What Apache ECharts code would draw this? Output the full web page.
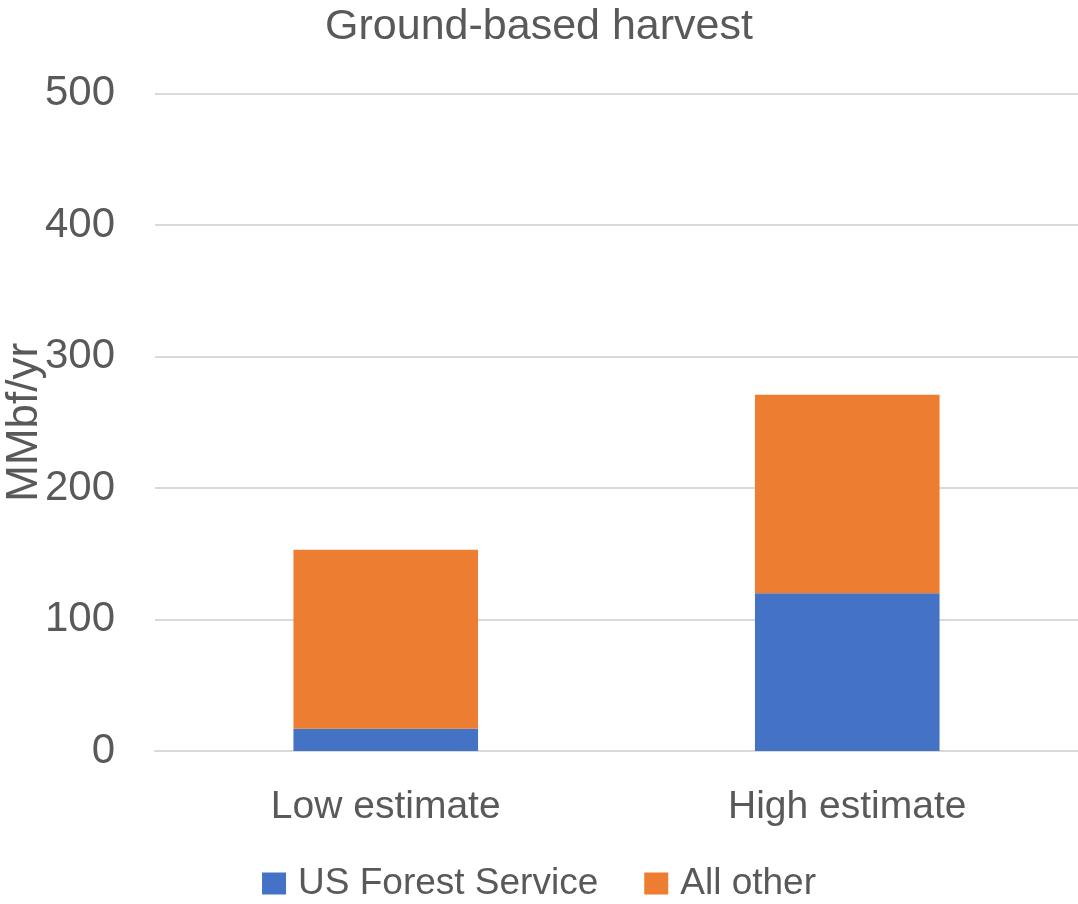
<!DOCTYPE html>
<html>
<head>
<meta charset="utf-8">
<script src="https://cdn.jsdelivr.net/npm/echarts@6/dist/echarts.min.js"></script>
<style>
html,body{margin:0;padding:0;background:#fff;}
#chart{width:1078px;height:904px;}
</style>
</head>
<body>
<div id="chart"></div>
<script>
const categories = ["Low estimate", "High estimate"];
const usForestService = [17, 120];
const allOther = [136, 151];
const yTicks = [0, 100, 200, 300, 400, 500];

const textColor = '#595959';
const fontFamily = '"Liberation Sans", Arial, sans-serif';
const chart = echarts.init(document.getElementById('chart'));
chart.setOption({
  animation: false,
  title: {
    text: 'Ground-based harvest',
    left: 'center',
    top: 1,
    textStyle: { color: textColor, fontSize: 43, fontWeight: 'normal', fontFamily: fontFamily }
  },
  legend: {
    top: 860,
    left: 'center',
    itemWidth: 24,
    itemHeight: 22,
    itemGap: 46,
    icon: 'rect',
    textStyle: { color: textColor, fontSize: 37, fontFamily: fontFamily, padding: [0, 0, 0, 7] },
    data: ['US Forest Service', 'All other']
  },
  grid: { left: 155, right: 0, top: 93.5, bottom: 153, containLabel: false, outerBoundsMode: 'none' },
  xAxis: {
    type: 'category',
    data: categories,
    axisLine: { lineStyle: { color: '#D9D9D9', width: 2 } },
    axisTick: { show: false },
    axisLabel: { color: textColor, fontSize: 39, fontFamily: fontFamily, margin: 37 }
  },
  yAxis: {
    type: 'value',
    min: yTicks[0],
    max: yTicks[yTicks.length - 1],
    interval: 100,
    name: 'MMbf/yr',
    nameLocation: 'middle',
    nameGap: 108,
    nameMoveOverlap: false,
    nameTextStyle: { color: textColor, fontSize: 44, fontFamily: fontFamily },
    axisLine: { show: false },
    axisTick: { show: false },
    axisLabel: { color: textColor, fontSize: 42, fontFamily: fontFamily, margin: 40 },
    splitLine: { lineStyle: { color: '#D9D9D9', width: 2 } }
  },
  series: [
    {
      name: 'US Forest Service',
      type: 'bar',
      stack: 'total',
      barWidth: '40%',
      data: usForestService,
      itemStyle: { color: '#4472C4' }
    },
    {
      name: 'All other',
      type: 'bar',
      stack: 'total',
      barWidth: '40%',
      data: allOther,
      itemStyle: { color: '#ED7D31' }
    }
  ]
});
</script>
</body>
</html>
